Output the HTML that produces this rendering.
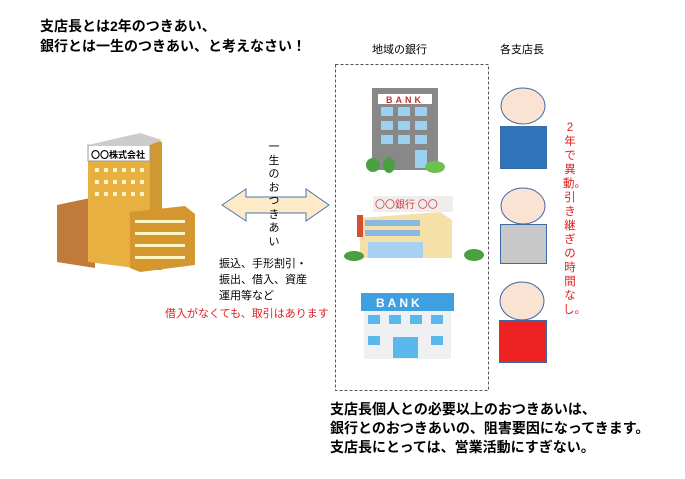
<!DOCTYPE html>
<html><head><meta charset="utf-8"><style>
body{margin:0;width:685px;height:479px;background:#fff;position:relative;overflow:hidden;font-family:"Liberation Sans","Noto Sans CJK JP",sans-serif}
.t{position:absolute;white-space:nowrap}
.b{font-weight:bold;font-size:14px;line-height:20px;color:#000}
.s{font-size:11px;color:#000}
</style></head><body>
<div class="t b" style="left:40px;top:16px">支店長とは2年のつきあい、<br>銀行とは一生のつきあい、と考えなさい！</div>
<div class="t s" style="left:372px;top:41px">地域の銀行</div>
<div class="t s" style="left:500px;top:41px">各支店長</div>
<svg width="685" height="479" style="position:absolute;left:0;top:0">
<polygon points="57,205 95,197 95,268 57,262" fill="#c07a3a"/>
<polygon points="88,148 150,138 150,270 88,262" fill="#e8b040"/>
<polygon points="150,138 162,142 162,270 150,270" fill="#d09830"/>
<rect x="88" y="145" width="62" height="16" fill="#fff" stroke="#999"/>
<polygon points="88,145 140,133 162,140 150,145" fill="#ccc"/>
<text x="91" y="158" font-size="9" font-weight="bold" fill="#000">〇〇株式会社</text>
<g fill="#fff5c0">
<rect x="95" y="168" width="4" height="4"/><rect x="104" y="168" width="4" height="4"/><rect x="113" y="168" width="4" height="4"/><rect x="122" y="168" width="4" height="4"/><rect x="131" y="168" width="4" height="4"/><rect x="140" y="168" width="4" height="4"/>
<rect x="95" y="180" width="4" height="4"/><rect x="104" y="180" width="4" height="4"/><rect x="113" y="180" width="4" height="4"/><rect x="122" y="180" width="4" height="4"/><rect x="131" y="180" width="4" height="4"/><rect x="140" y="180" width="4" height="4"/>
<rect x="95" y="192" width="4" height="4"/><rect x="104" y="192" width="4" height="4"/><rect x="113" y="192" width="4" height="4"/><rect x="122" y="192" width="4" height="4"/><rect x="131" y="192" width="4" height="4"/><rect x="140" y="192" width="4" height="4"/>
</g>
<polygon points="130,212 185,206 195,214 195,265 140,272 130,268" fill="#d4962e"/>
<g fill="#fff5c0"><rect x="135" y="220" width="50" height="3"/><rect x="135" y="232" width="50" height="3"/><rect x="135" y="244" width="50" height="3"/><rect x="135" y="256" width="50" height="3"/></g>
<polygon points="222,205 246,189 246,197 306,197 306,189 329,205 306,221 306,213 246,213 246,221" fill="#fdebc8" stroke="#4a74b8" stroke-width="1"/>
<rect x="335.5" y="64.5" width="153" height="326" fill="none" stroke="#555" stroke-dasharray="3,2"/>
<rect x="372" y="88" width="66" height="82" fill="#888"/>
<rect x="378" y="94" width="54" height="10" fill="#fff"/>
<text x="386" y="103" font-size="9" font-weight="bold" fill="#c03030" letter-spacing="3">BANK</text>
<g fill="#9cd0f0"><rect x="381" y="107" width="12" height="9"/><rect x="398" y="107" width="12" height="9"/><rect x="415" y="107" width="12" height="9"/><rect x="381" y="121" width="12" height="9"/><rect x="398" y="121" width="12" height="9"/><rect x="415" y="121" width="12" height="9"/><rect x="381" y="135" width="12" height="9"/><rect x="398" y="135" width="12" height="9"/><rect x="415" y="135" width="12" height="9"/><rect x="415" y="150" width="12" height="18"/></g>
<ellipse cx="373" cy="165" rx="7" ry="7" fill="#4aa040"/><ellipse cx="389" cy="165" rx="6" ry="8" fill="#4aa040"/><ellipse cx="435" cy="167" rx="10" ry="6" fill="#6cc050"/>
<polygon points="360,218 440,212 452,220 452,258 360,258" fill="#f5e0a8"/>
<rect x="373" y="196" width="80" height="16" fill="#eee"/>
<text x="375" y="208" font-size="10" fill="#d04040">〇〇銀行 〇〇</text>
<rect x="357" y="215" width="6" height="22" fill="#d05030"/>
<rect x="365" y="220" width="55" height="6" fill="#8ab8e0"/><rect x="365" y="230" width="55" height="6" fill="#8ab8e0"/>
<rect x="368" y="242" width="55" height="16" fill="#a8d0f0"/>
<ellipse cx="354" cy="256" rx="10" ry="5" fill="#4aa040"/><ellipse cx="474" cy="255" rx="10" ry="6" fill="#4aa040"/>
<rect x="361" y="293" width="93" height="18" fill="#3ea0e0"/>
<text x="376" y="307" font-size="12" font-weight="bold" fill="#fff" letter-spacing="3">BANK</text>
<rect x="364" y="311" width="87" height="48" fill="#eef0f2"/>
<g fill="#5ab8ec"><rect x="368" y="315" width="12" height="9"/><rect x="389" y="315" width="12" height="9"/><rect x="410" y="315" width="12" height="9"/><rect x="431" y="315" width="12" height="9"/><rect x="368" y="336" width="12" height="9"/><rect x="431" y="336" width="12" height="9"/><rect x="393" y="337" width="25" height="21"/></g>
<g stroke="#3d6aa8" stroke-width="1">
<ellipse cx="523" cy="106" rx="22" ry="18" fill="#fbe3d4"/>
<rect x="500.5" y="126.5" width="46" height="42" fill="#2f74b8"/>
<ellipse cx="523" cy="206" rx="22" ry="18" fill="#fbe3d4"/>
<rect x="500.5" y="224.5" width="46" height="39" fill="#c8c8c8"/>
<ellipse cx="522" cy="301" rx="22" ry="19" fill="#fbe3d4"/>
<rect x="499.5" y="320.5" width="47" height="42" fill="#ee2222"/>
</g>
</svg>
<div class="t" style="left:266px;top:141px;width:16px;font-size:11px;line-height:13.5px;white-space:normal;text-align:center">一生のおつきあい</div>
<div class="t" style="left:563px;top:121px;width:14px;font-size:11.5px;line-height:14px;white-space:normal;text-align:center;color:#e02020">2年で異動。引き継ぎの時間なし。</div>
<div class="t" style="left:219px;top:256px;font-size:11px;line-height:16px">振込、手形割引・<br>振出、借入、資産<br>運用等など</div>
<div class="t" style="left:165px;top:305px;font-size:11px;color:#e02020">借入がなくても、取引はあります</div>
<div class="t b" style="left:330px;top:400px;line-height:19px">支店長個人との必要以上のおつきあいは、<br>銀行とのおつきあいの、阻害要因になってきます。<br>支店長にとっては、営業活動にすぎない。</div>
</body></html>
